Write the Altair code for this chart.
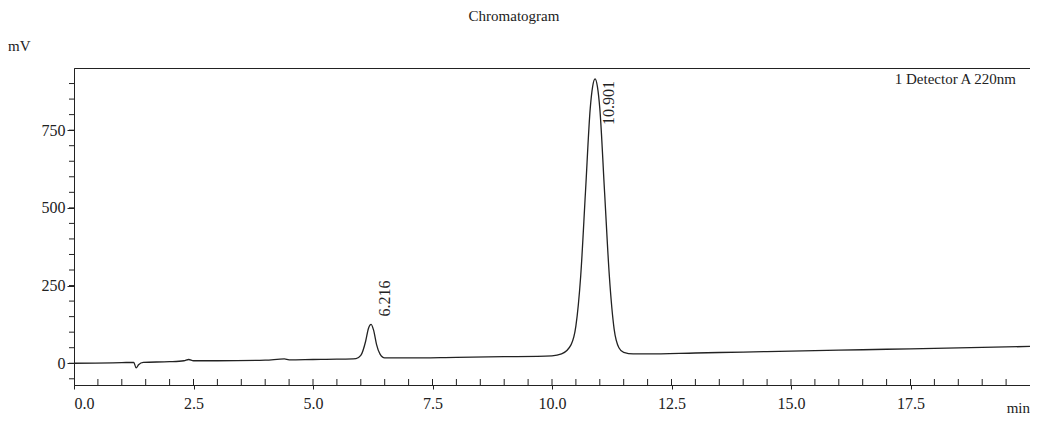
import altair as alt
import pandas as pd

t = [0, 1.0, 1.25, 1.3, 1.35, 1.45, 2.0, 2.3, 2.4, 2.5, 3.0, 4.0, 4.4, 4.5, 5.0, 5.5, 5.9, 6.0, 6.1, 6.16, 6.216, 6.27, 6.33, 6.4, 6.5,
     7.0, 8, 9, 10, 10.2, 10.4, 10.5, 10.6, 10.7, 10.8, 10.85, 10.901, 10.95, 11.0, 11.1, 11.2, 11.3, 11.4, 11.5, 11.7, 12, 13, 14, 15,
     16, 17, 18, 19, 20]
mv = [0, 2, 3, -15, -5, 3, 5, 8, 12, 8, 8, 10, 14, 11, 12, 13, 15, 25, 70, 112, 125, 105, 60, 30, 17,
      17, 19, 21, 24, 30, 60, 120, 280, 550, 820, 890, 915, 890, 820, 550, 280, 110, 50, 35, 30, 30, 33, 36, 39,
      42, 45, 48, 51, 54]
peak_t = [6.216, 10.901]
peak_v = [125, 915]
peak_lbl = ["6.216", "10.901"]
x_major = [0, 2.5, 5, 7.5, 10, 12.5, 15, 17.5]
x_minor = [i * 0.5 for i in range(1, 40)]
y_major = [0, 250, 500, 750]
y_minor = [i * 50 for i in range(-1, 19)]

F = "Liberation Serif"
C = "#222"
H = 317
df = pd.DataFrame({"t": t, "mv": mv})
pk = pd.DataFrame({"t": peak_t, "mv": peak_v, "lbl": peak_lbl})

xs = alt.Scale(domain=[0, 20], nice=False, zero=False)
ys = alt.Scale(domain=[-70, 950], nice=False)
x = alt.X("t:Q", scale=xs,
          axis=alt.Axis(values=x_major, format=".1f", title=None, grid=False, labelFont=F, labelFontSize=16,
                        labelColor=C, tickColor=C, domainColor=C, labelPadding=6, tickSize=4))
y = alt.Y("mv:Q", scale=ys,
          axis=alt.Axis(values=y_major, format="d", title=None, grid=False, labelFont=F, labelFontSize=16,
                        labelColor=C, tickColor=C, domainColor=C, tickSize=7))

line = alt.Chart(df).mark_line(color=C, strokeWidth=1.3, interpolate="monotone").encode(x=x, y=y)
xmin = alt.Chart(pd.DataFrame({"v": x_minor})).mark_rule(color=C, strokeWidth=1).encode(
    x=alt.X("v:Q", scale=xs), y=alt.value(H), y2=alt.value(H - 6))
ymin = alt.Chart(pd.DataFrame({"v": y_minor})).mark_rule(color=C, strokeWidth=1).encode(
    y=alt.Y("v:Q", scale=ys), x=alt.value(0), x2=alt.value(-5))
lbl1 = alt.Chart(pk).transform_filter(alt.datum.lbl == "6.216").mark_text(
    angle=270, align="left", dx=8, dy=14, font=F, fontSize=16, color=C).encode(x="t:Q", y="mv:Q", text="lbl:N")
lbl2 = alt.Chart(pk).transform_filter(alt.datum.lbl == "10.901").mark_text(
    angle=270, align="right", dx=-2, dy=14, font=F, fontSize=16, color=C).encode(x="t:Q", y="mv:Q", text="lbl:N")
one = pd.DataFrame({"a": [1]})
det = alt.Chart(one).mark_text(text="1 Detector A 220nm", font=F, fontSize=15, align="right",
    baseline="top", color=C).encode(x=alt.value(942), y=alt.value(4))
mvt = alt.Chart(one).mark_text(text="mV", font=F, fontSize=15, align="left",
    color=C).encode(x=alt.value(-66), y=alt.value(-22))
mint = alt.Chart(one).mark_text(text="min", font=F, fontSize=15, align="right",
    color=C).encode(x=alt.value(956), y=alt.value(340))
ttl = alt.Chart(one).mark_text(text="Chromatogram", font=F, fontSize=15, align="center",
    color=C).encode(x=alt.value(440), y=alt.value(-52))

chart = alt.layer(line, xmin, ymin, lbl1, lbl2, det, mvt, mint, ttl).properties(
    width=956, height=H,
    padding={"left": 66, "top": 60, "right": 0, "bottom": 36},
    autosize=alt.AutoSizeParams(type="none"),
).configure_view(stroke=C)

chart.save("out.html", embed_options={"renderer": "svg", "actions": False})
